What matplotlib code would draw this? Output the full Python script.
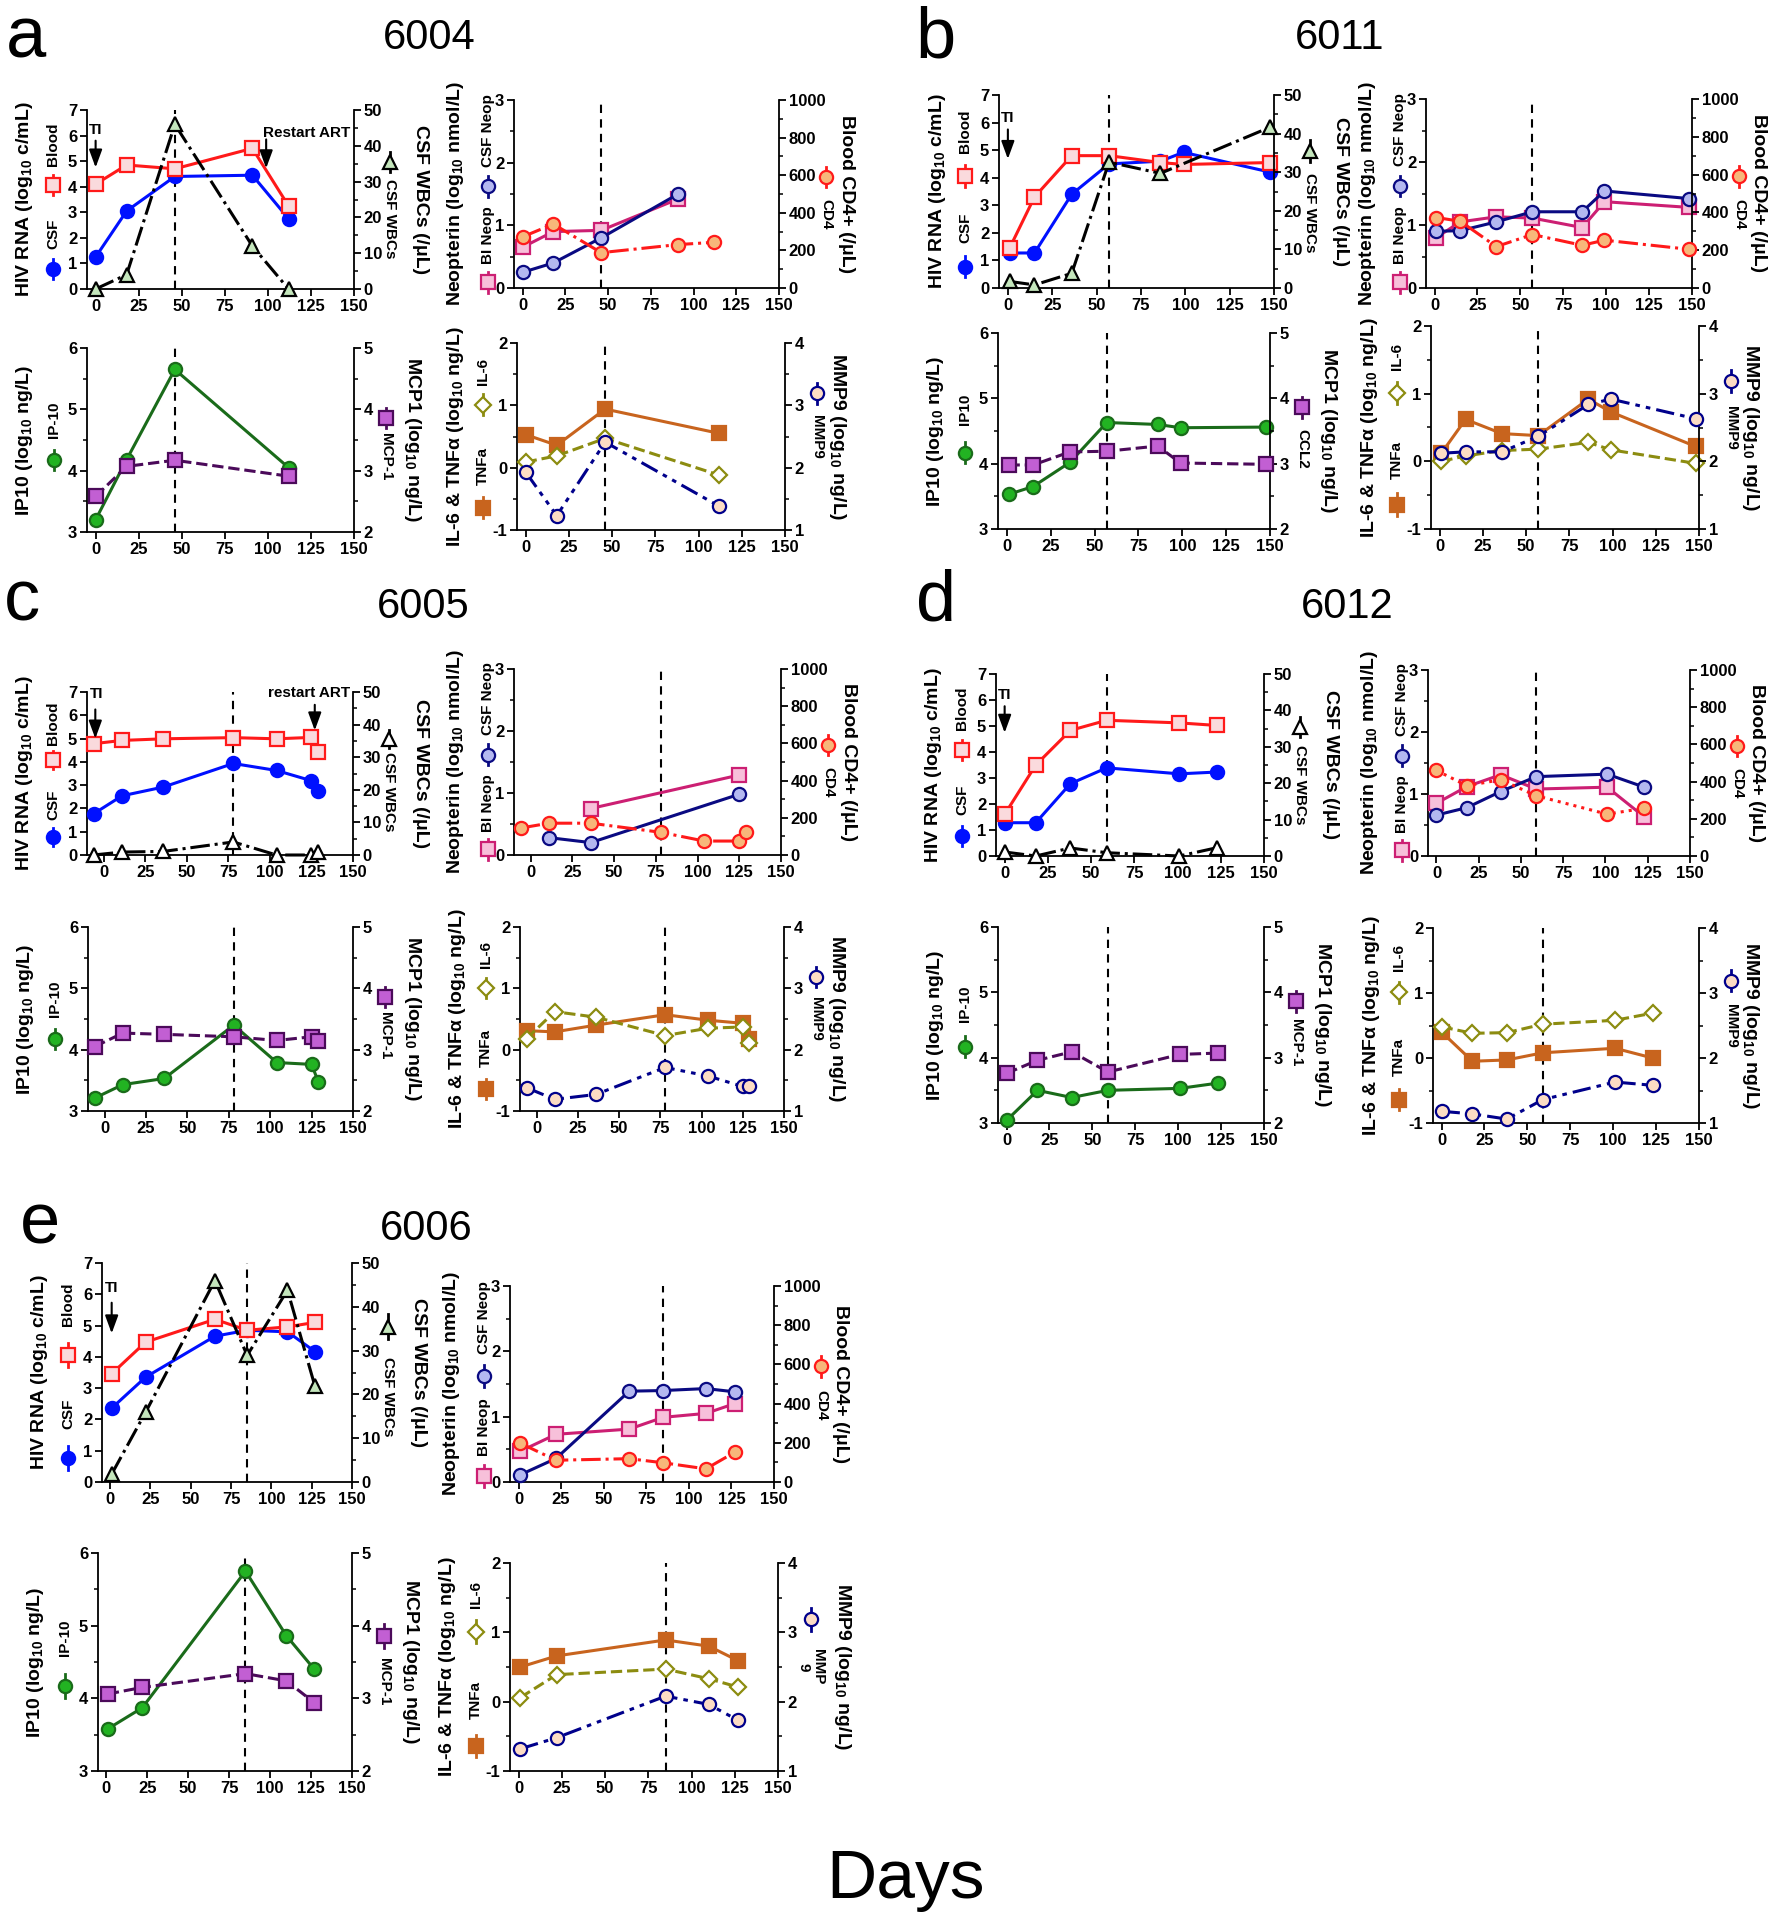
import matplotlib
matplotlib.use('Agg')
import matplotlib.pyplot as plt
from matplotlib.ticker import MultipleLocator, NullLocator

plt.rcParams['font.family'] = ['Liberation Sans', 'DejaVu Sans']
plt.rcParams['font.weight'] = 'bold'
plt.rcParams['mathtext.fontset'] = 'custom'
plt.rcParams['mathtext.rm'] = 'Liberation Sans:bold'
plt.rcParams['mathtext.bf'] = 'Liberation Sans:bold'
plt.rcParams['mathtext.it'] = 'Liberation Sans:bold'
plt.rcParams['mathtext.default'] = 'bf'
plt.rcParams['axes.linewidth'] = 1.3

# ---------------- data ----------------
day_ticks = [0, 25, 50, 75, 100, 125, 150]

# a: 6004
a_rna_days = [0, 18, 46, 91, 112]
a_blood = [4.1, 4.85, 4.7, 5.5, 3.25]
a_csf = [1.25, 3.05, 4.4, 4.45, 2.75]
a_wbc = [0, 4, 46, 12, 0]
a_neop_days = [0, 18, 46, 91]
a_csf_neop = [0.25, 0.4, 0.8, 1.5]
a_bl_neop = [0.65, 0.9, 0.92, 1.42]
a_cd4_days = [0, 18, 46, 91, 112]
a_cd4 = [272, 340, 188, 231, 243]
a_cyto_days = [0, 18, 46, 112]
a_ip10 = [3.2, 4.18, 5.65, 4.05]
a_mcp1 = [2.58, 3.07, 3.17, 2.91]
a_tnfa = [0.53, 0.36, 0.94, 0.55]
a_il6 = [0.09, 0.19, 0.47, -0.12]
a_mmp9 = [1.93, 1.23, 2.41, 1.38]
a_vline = 46

# b: 6011
b_days = [1, 15, 36, 57, 86, 99, 148]
b_blood = [1.45, 3.3, 4.8, 4.8, 4.55, 4.48, 4.55]
b_csf = [1.27, 1.27, 3.4, 4.5, 4.6, 4.92, 4.2]
b_wbc_days = [1, 15, 36, 57, 86, 148]
b_wbc = [1.7, 0.8, 3.8, 32.6, 29.7, 41.7]
b_csf_neop = [0.9, 0.91, 1.05, 1.21, 1.21, 1.54, 1.42]
b_bl_neop = [0.8, 1.05, 1.13, 1.11, 0.96, 1.37, 1.28]
b_cd4 = [373, 353, 219, 283, 226, 253, 205]
b_ip10 = [3.53, 3.65, 4.02, 4.63, 4.6, 4.55, 4.56]
b_mcp1 = [2.98, 2.98, 3.18, 3.19, 3.27, 3.01, 2.99]
b_tnfa = [0.12, 0.62, 0.41, 0.38, 0.92, 0.73, 0.22]
b_il6 = [0.0, 0.08, 0.16, 0.18, 0.28, 0.17, -0.03]
b_mmp9 = [2.12, 2.14, 2.14, 2.37, 2.84, 2.92, 2.63]
b_vline = 57

# c: 6005
c_days = [-6, 11, 36, 78, 104, 125, 129]
c_blood = [4.78, 4.92, 4.99, 5.04, 4.99, 5.05, 4.43]
c_csf = [1.77, 2.54, 2.92, 3.93, 3.63, 3.19, 2.74]
c_wbc = [0, 0.9, 1.1, 4.0, 0, 0, 0.9]
c_csf_neop_days = [11, 36, 125]
c_csf_neop = [0.28, 0.2, 0.98]
c_bl_neop_days = [36, 125]
c_bl_neop = [0.75, 1.29]
c_cd4 = [145, 171, 171, 122, 75, 75, 122]
c_ip10 = [3.21, 3.43, 3.53, 4.4, 3.79, 3.76, 3.48]
c_mcp1 = [3.05, 3.27, 3.25, 3.21, 3.15, 3.21, 3.14]
c_tnfa = [0.31, 0.29, 0.40, 0.57, 0.48, 0.43, 0.18]
c_il6 = [0.18, 0.62, 0.53, 0.23, 0.35, 0.37, 0.11]
c_mmp9 = [1.38, 1.19, 1.27, 1.71, 1.57, 1.40, 1.40]
c_vline = 78

# d: 6012
d_days = [0, 18, 38, 59, 101, 123]
d_blood = [1.6, 3.5, 4.83, 5.22, 5.12, 5.02]
d_csf = [1.28, 1.28, 2.78, 3.39, 3.16, 3.23]
d_wbc = [1.1, 0, 2.2, 0.9, 0, 2.3]
d_csf_neop = [0.66, 0.78, 1.04, 1.28, 1.32, 1.11]
d_bl_neop = [0.85, 1.12, 1.31, 1.08, 1.11, 0.63]
d_cd4 = [460, 378, 410, 324, 225, 257]
d_ip10 = [3.04, 3.5, 3.39, 3.5, 3.53, 3.61]
d_mcp1 = [2.76, 2.96, 3.09, 2.78, 3.05, 3.07]
d_tnfa = [0.40, -0.05, -0.03, 0.08, 0.15, 0.0]
d_il6 = [0.48, 0.38, 0.39, 0.52, 0.58, 0.69]
d_mmp9 = [1.18, 1.14, 1.06, 1.36, 1.63, 1.58]
d_vline = 59

# e: 6006
e_days = [1, 22, 65, 85, 110, 127]
e_blood = [3.46, 4.47, 5.2, 4.85, 4.96, 5.1]
e_csf = [2.36, 3.35, 4.66, 4.85, 4.8, 4.17]
e_wbc = [1.8, 15.9, 46, 28.9, 43.8, 21.9]
e_csf_neop = [0.11, 0.36, 1.39, 1.40, 1.43, 1.38]
e_bl_neop = [0.47, 0.73, 0.81, 0.99, 1.05, 1.2]
e_cd4 = [198, 111, 119, 98, 67, 152]
e_cyto_days = [1, 22, 85, 110, 127]
e_ip10 = [3.58, 3.87, 5.75, 4.86, 4.4]
e_mcp1 = [3.06, 3.15, 3.34, 3.24, 2.94]
e_tnfa = [0.5, 0.66, 0.89, 0.8, 0.59]
e_il6 = [0.06, 0.39, 0.47, 0.33, 0.21]
e_mmp9 = [1.32, 1.48, 2.08, 1.96, 1.73]
e_vline = 85

# ---------------- styles ----------------
STY = {
    'blood': dict(c='#ff1a1a', ls='-', m='s', mfc='#fadadd', mec='#ff1a1a', ms=9.5),
    'csf': dict(c='#0010ff', ls='-', m='o', mfc='#0010ff', mec='#0010ff', ms=9.5),
    'wbc': dict(c='black', ls='-.', m='^', mfc='#c4e6bc', mec='black', ms=9.5),
    'csfneop': dict(c='#0a0a82', ls='-', m='o', mfc='#b4b8f0', mec='#0a0a82', ms=9.5),
    'bineop': dict(c='#cc1f73', ls='-', m='s', mfc='#f7c0da', mec='#cc1f73', ms=9.5),
    'cd4': dict(c='#ff1a1a', ls='-.', m='o', mfc='#f7b77a', mec='#ff1a1a', ms=9.5),
    'ip10': dict(c='#1a6b1a', ls='-', m='o', mfc='#22b322', mec='#1a6b1a', ms=9.5),
    'mcp1': dict(c='#4b0a5a', ls='--', m='s', mfc='#c25fd3', mec='#4b0a5a', ms=9.5),
    'tnfa': dict(c='#c8641e', ls='-', m='s', mfc='#c8641e', mec='#c8641e', ms=9.5),
    'il6': dict(c='#8c8c10', ls='--', m='D', mfc='white', mec='#8c8c10', ms=8),
    'mmp9': dict(c='#00008b', ls=(0, (6, 2, 1.5, 2, 1.5, 2)), m='o', mfc='#fcdcc4', mec='#00008b', ms=9.5),
}

# label / legend offsets in pixels from the left and right spines
KIND = {
    'hiv': dict(yl=(0, 7), yt=[0, 1, 2, 3, 4, 5, 6, 7], ymin=None,
                rl=(0, 50), rt=[0, 10, 20, 30, 40, 50], rmin=5,
                lab='HIV RNA (log$_{10}$ c/mL)', rlab='CSF WBCs (/μL)',
                leg=[(0.11, 0.31), (0.58, 0.81)], lx=-34, ylx=-62,
                rleg=(0.71, 0.39), rx=36, rylx=67),
    'neo': dict(yl=(0, 3), yt=[0, 1, 2, 3], ymin=0.5,
                rl=(0, 1000), rt=[0, 200, 400, 600, 800, 1000], rmin=100,
                lab='Neopterin (log$_{10}$ nmol/L)', rlab='Blood CD4+ (/μL)',
                leg=[(0.03, 0.28), (0.54, 0.84)], lx=-26, ylx=-58,
                rleg=(0.59, 0.39), rx=47, rylx=67),
    'ip': dict(yl=(3, 6), yt=[3, 4, 5, 6], ymin=0.5,
               rl=(2, 5), rt=[2, 3, 4, 5], rmin=0.5,
               lab='IP10 (log$_{10}$ ng/L)', rlab='MCP1 (log$_{10}$ ng/L)',
               leg=[(0.39, 0.61)], lx=-33, ylx=-62,
               rleg=(0.62, 0.41), rx=32, rylx=59),
    'cyt': dict(yl=(-1, 2), yt=[-1, 0, 1, 2], ymin=0.5,
                rl=(1, 4), rt=[1, 2, 3, 4], rmin=0.5,
                lab='IL-6 & TNFα (log$_{10}$ ng/L)', rlab='MMP9 (log$_{10}$ ng/L)',
                leg=[(0.12, 0.34), (0.67, 0.85)], lx=-34, ylx=-62,
                rleg=(0.73, 0.5), rx=32, rylx=52),
}

NARROW = ['Liberation Sans Narrow', 'Liberation Sans', 'DejaVu Sans']
NORMAL = ['Liberation Sans', 'DejaVu Sans']

W, H = 1787, 1920
fig = plt.figure(figsize=(W / 100, H / 100), dpi=100)


def style(key, over):
    st = dict(STY[key])
    st.update(over.get(key, {}))
    return st


def draw(axis, key, x, y, over):
    st = style(key, over)
    axis.plot(x, y, color=st['c'], ls=st['ls'], lw=2.2, marker=st['m'], ms=st['ms'],
              mfc=st['mfc'], mec=st['mec'], mew=1.6, clip_on=False, zorder=3)


def glyph(ax, xf, yf, key, over):
    st = style(key, over)
    ax.plot([xf, xf], [yf - 0.055, yf + 0.055], transform=ax.transAxes, color=st['c'],
            lw=2, clip_on=False)
    ax.plot([xf], [yf], transform=ax.transAxes, ls='none', marker=st['m'], ms=st['ms'],
            mfc=st['mfc'], mec=st['mec'], mew=1.6, clip_on=False)


def make(px, xmin, kind, left, right, vline, fam, leg_names, rname, over=None,
         ann=None, fs=12, rylx_px=None, rx_px=None):
    over = over or {}
    l, r, t, b = px
    w = r - l
    sp = KIND[kind]
    lx = sp['lx'] / w
    ylx = sp['ylx'] / w
    rx = 1 + (rx_px if rx_px is not None else sp['rx']) / w
    rylx = 1 + (rylx_px if rylx_px is not None else sp['rylx']) / w
    ax = fig.add_axes([l / W, 1 - b / H, (r - l) / W, (b - t) / H])
    ax2 = ax.twinx()
    ax.axvline(vline, color='black', ls=(0, (4, 3)), lw=1.5, zorder=1)
    for key, x, y in left:
        draw(ax, key, x, y, over)
    for key, x, y in right:
        draw(ax2, key, x, y, over)
    ax.set_xlim(xmin, 150)
    ax.set_xticks(day_ticks, [str(v) for v in day_ticks], fontfamily=fam,
                  fontweight='bold', fontsize=fs)
    ax.set_ylim(*sp['yl'])
    ax.set_yticks(sp['yt'], [str(v) for v in sp['yt']], fontfamily=fam,
                  fontweight='bold', fontsize=fs)
    ax2.set_ylim(*sp['rl'])
    ax2.set_yticks(sp['rt'], [str(v) for v in sp['rt']], fontfamily=fam,
                   fontweight='bold', fontsize=fs)
    if sp['ymin']:
        ax.yaxis.set_minor_locator(MultipleLocator(sp['ymin']))
    ax2.yaxis.set_minor_locator(MultipleLocator(sp['rmin']))
    ax.xaxis.set_minor_locator(NullLocator())
    for a_ in (ax, ax2):
        a_.tick_params(which='major', direction='out', length=5, width=1.3, pad=2)
        a_.tick_params(which='minor', direction='out', length=3, width=1.1)
    ax.spines['top'].set_visible(False)
    ax.spines['right'].set_visible(False)
    for s in ('top', 'left', 'bottom'):
        ax2.spines[s].set_visible(False)
    # axis titles
    ax.text(ylx, 0.5, sp['lab'], rotation=90, ha='center', va='center',
            transform=ax.transAxes, fontsize=14, fontweight='bold')
    ax.text(rylx, 0.5, sp['rlab'], rotation=270, ha='center', va='center',
            transform=ax.transAxes, fontsize=14, fontweight='bold')
    # in-figure legends (Prism style)
    for (key, _, _), (my, ty), name in zip(left, sp['leg'], leg_names):
        glyph(ax, lx, my, key, over)
        ax.text(lx, ty, name, rotation=90, ha='center', va='center',
                transform=ax.transAxes, fontsize=11, fontweight='bold')
    rkey = right[0][0]
    glyph(ax, rx, sp['rleg'][0], rkey, over)
    ax.text(rx, sp['rleg'][1], rname, rotation=270, ha='center', va='center',
            transform=ax.transAxes, fontsize=11, fontweight='bold', linespacing=1.0)
    if ann:
        for (x, ytxt, y0, y1, label, ha) in ann:
            ax.annotate('', xy=(x, y1), xytext=(x, y0),
                        arrowprops=dict(arrowstyle='-|>,head_width=0.22,head_length=0.6',
                                        color='black', lw=1.5, shrinkA=0, shrinkB=0,
                                        mutation_scale=18))
            tx = x if ha == 'center' else (x - 3 if ha == 'left' else 148)
            ax.text(tx, ytxt, label, ha=ha, va='center', fontsize=11,
                    fontweight='bold', fontfamily=fam)
    return ax


# ---------------- panel a : 6004 ----------------
make((87, 354, 110, 289), -5, 'hiv',
     [('csf', a_rna_days, a_csf), ('blood', a_rna_days, a_blood)],
     [('wbc', a_rna_days, a_wbc)], a_vline, NORMAL, ['CSF', 'Blood'], 'CSF WBCs',
     ann=[(0, 6.2, 5.8, 4.75, 'TI', 'center'), (99, 6.1, 5.85, 4.72, 'Restart ART', 'right')])
make((514, 779, 100, 288), -5, 'neo',
     [('bineop', a_neop_days, a_bl_neop), ('csfneop', a_neop_days, a_csf_neop)],
     [('cd4', a_cd4_days, a_cd4)], a_vline, NORMAL, ['BI Neop', 'CSF Neop'], 'CD4')
make((87, 354, 348, 532), -5, 'ip',
     [('ip10', a_cyto_days, a_ip10)], [('mcp1', a_cyto_days, a_mcp1)], a_vline, NORMAL,
     ['IP-10'], 'MCP-1')
make((517, 785, 343, 530), -5, 'cyt',
     [('tnfa', a_cyto_days, a_tnfa), ('il6', a_cyto_days, a_il6)],
     [('mmp9', a_cyto_days, a_mmp9)], a_vline, NORMAL, ['TNFa', 'IL-6'], 'MMP9')

# ---------------- panel b : 6011 ----------------
make((999, 1274, 95, 288), -5, 'hiv',
     [('csf', b_days, b_csf), ('blood', b_days, b_blood)],
     [('wbc', b_wbc_days, b_wbc)], b_vline, NORMAL, ['CSF', 'Blood'], 'CSF WBCs',
     ann=[(0, 6.17, 5.75, 4.68, 'TI', 'center')])
make((1426, 1692, 99, 288), -5, 'neo',
     [('bineop', b_days, b_bl_neop), ('csfneop', b_days, b_csf_neop)],
     [('cd4', b_days, b_cd4)], b_vline, NORMAL, ['BI Neop', 'CSF Neop'], 'CD4')
make((998, 1270, 333, 529), -5, 'ip',
     [('ip10', b_days, b_ip10)], [('mcp1', b_days, b_mcp1)], b_vline, NARROW,
     ['IP10'], 'CCL2')
make((1431, 1699, 326, 529), -5, 'cyt',
     [('tnfa', b_days, b_tnfa), ('il6', b_days, b_il6)],
     [('mmp9', b_days, b_mmp9)], b_vline, NARROW, ['TNFa', 'IL-6'], 'MMP9')

# ---------------- panel c : 6005 ----------------
white_tri = {'wbc': dict(mfc='white')}
make((87, 353, 692, 855), -10, 'hiv',
     [('csf', c_days, c_csf), ('blood', c_days, c_blood)],
     [('wbc', c_days, c_wbc)], c_vline, NARROW, ['CSF', 'Blood'], 'CSF WBCs',
     over=white_tri,
     ann=[(-5, 6.9, 6.25, 5.0, 'TI', 'left'), (127, 6.95, 6.45, 5.35, 'restart ART', 'right')])
make((514, 781, 669, 855), -10, 'neo',
     [('bineop', c_bl_neop_days, c_bl_neop), ('csfneop', c_csf_neop_days, c_csf_neop)],
     [('cd4', c_days, c_cd4)], c_vline, NARROW, ['BI Neop', 'CSF Neop'], 'CD4')
make((88, 353, 927, 1111), -10, 'ip',
     [('ip10', c_days, c_ip10)], [('mcp1', c_days, c_mcp1)], c_vline, NARROW,
     ['IP-10'], 'MCP-1')
make((520, 784, 927, 1111), -10, 'cyt',
     [('tnfa', c_days, c_tnfa), ('il6', c_days, c_il6)],
     [('mmp9', c_days, c_mmp9)], c_vline, NARROW, ['TNFa', 'IL-6'], 'MMP9')

# ---------------- panel d : 6012 ----------------
make((996, 1264, 674, 856), -5, 'hiv',
     [('csf', d_days, d_csf), ('blood', d_days, d_blood)],
     [('wbc', d_days, d_wbc)], d_vline, NARROW, ['CSF', 'Blood'], 'CSF WBCs',
     over=white_tri, ann=[(0, 6.2, 5.76, 4.74, 'TI', 'center')])
make((1428, 1690, 670, 856), -5, 'neo',
     [('bineop', d_days, d_bl_neop), ('csfneop', d_days, d_csf_neop)],
     [('cd4', d_days, d_cd4)], d_vline, NARROW, ['BI Neop', 'CSF Neop'], 'CD4',
     over={'cd4': dict(ls=':')})
make((998, 1264, 927, 1123), -5, 'ip',
     [('ip10', d_days, d_ip10)], [('mcp1', d_days, d_mcp1)], d_vline, NARROW,
     ['IP-10'], 'MCP-1')
make((1433, 1699, 928, 1123), -5, 'cyt',
     [('tnfa', d_days, d_tnfa), ('il6', d_days, d_il6)],
     [('mmp9', d_days, d_mmp9)], d_vline, NARROW, ['TNFa', 'IL-6'], 'MMP9')

# ---------------- panel e : 6006 ----------------
make((102, 352, 1263, 1482), -5, 'hiv',
     [('csf', e_days, e_csf), ('blood', e_days, e_blood)],
     [('wbc', e_days, e_wbc)], e_vline, NARROW, ['CSF', 'Blood'], 'CSF WBCs',
     ann=[(1, 6.2, 5.73, 4.75, 'TI', 'center')])
make((510, 774, 1286, 1482), -5, 'neo',
     [('bineop', e_days, e_bl_neop), ('csfneop', e_days, e_csf_neop)],
     [('cd4', e_days, e_cd4)], e_vline, NARROW, ['BI Neop', 'CSF Neop'], 'CD4')
make((98, 352, 1553, 1771), -5, 'ip',
     [('ip10', e_cyto_days, e_ip10)], [('mcp1', e_cyto_days, e_mcp1)], e_vline, NARROW,
     ['IP-10'], 'MCP-1')
make((510, 778, 1563, 1771), -5, 'cyt',
     [('tnfa', e_cyto_days, e_tnfa), ('il6', e_cyto_days, e_il6)],
     [('mmp9', e_cyto_days, e_mmp9)], e_vline, NARROW, ['TNFa', 'IL-6'], 'MMP\n9',
     rx_px=33, rylx_px=64)

# ---------------- figure texts ----------------
panel_letters = [('a', 6, 57), ('b', 915, 57), ('c', 4, 620), ('d', 916, 620), ('e', 20, 1243)]
panel_titles = [('6004', 429, 49), ('6011', 1340, 49), ('6005', 423, 618),
                ('6012', 1347, 618), ('6006', 426, 1240)]
for s, x, y in panel_letters:
    fig.text(x / W, 1 - y / H, s, fontsize=52, fontweight='normal', ha='left', va='baseline')
for s, x, y in panel_titles:
    fig.text(x / W, 1 - y / H, s, fontsize=30, fontweight='normal', ha='center', va='baseline')
fig.text(906 / W, 1 - 1898 / H, 'Days', fontsize=50, fontweight='normal', ha='center',
         va='baseline')

fig.savefig('out.png', dpi=100)
